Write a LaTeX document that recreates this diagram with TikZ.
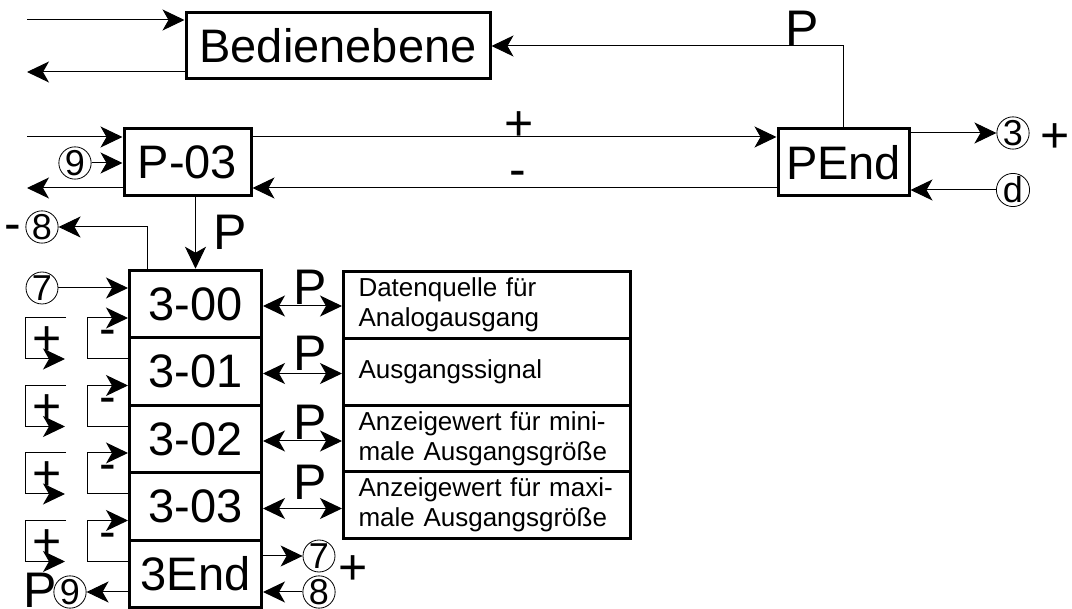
\documentclass[tikz,border=0pt]{standalone}
\usepackage{fontspec}
\setmainfont{Liberation Sans}
\usetikzlibrary{arrows.meta}

\tikzset{
  box/.style={draw, line width=3pt, inner sep=0pt, font=\fontsize{47}{56}\selectfont},
  descbox/.style={draw, line width=3pt, inner xsep=15pt, inner ysep=0pt, minimum height=66.7pt,
    text width=257pt, align=left, font=\fontsize{26}{30}\selectfont},
  circ/.style={draw, circle, line width=0.8pt, minimum size=32pt, inner sep=0pt, font=\fontsize{36}{36}\selectfont},
  lbl/.style={inner sep=0pt, text height=36pt, text depth=0pt, font=\fontsize{50}{50}\selectfont},
  arr/.style={line width=1pt, -{Stealth[length=22pt,width=21pt,inset=6pt]}},
  dbl/.style={line width=1pt, {Stealth[length=22pt,width=21pt,inset=6pt]}-{Stealth[length=22pt,width=21pt,inset=6pt]}}
}

\begin{document}
\begin{tikzpicture}[x=1pt,y=-1pt]
  \useasboundingbox (0,0) rectangle (1072,609);

  % Bedienebene and parameter level
  \node[box, minimum width=304pt, minimum height=66pt] (bed) at (338,46) {Bedienebene};
  \node[box, minimum width=127pt, minimum height=67pt] (p03) at (187.5,162.5) {P-03};
  \node[box, minimum width=131pt, minimum height=67pt] (pend) at (843.5,162.5) {PEnd};

  % Parameter boxes 3-00 ... 3End
  \foreach \n/\t [count=\i from 0] in {s300/3-00, s301/3-01, s302/3-02, s303/3-03, s3end/3End}
    \node[box, minimum width=132pt, minimum height=67.5pt] (\n) at (195.5,304+67.5*\i) {\t};

  % Descriptions
  \node[descbox] (d300) at (487,305) {Datenquelle für\\Analogausgang};
  \node[descbox] (d301) at (487,371.7) {Ausgangssignal};
  \node[descbox] (d302) at (487,438.4) {Anzeigewert für mini-\\male Ausgangsgröße};
  \node[descbox] (d303) at (487,505.1) {Anzeigewert für maxi-\\male Ausgangsgröße};

  % Bedienebene in/out
  \coordinate (inA) at (27,20);
  \coordinate (outA) at (27,72);
  \draw[arr] (inA) -- (inA -| bed.west);
  \draw[arr] (outA -| bed.west) -- (outA);
  \draw[arr] (pend.north) -- (pend.north |- bed.east) -- (bed.east);
  \node[lbl] (lp1) at (802,28) {P};

  % P-03 links
  \coordinate (inB) at (27,137);
  \coordinate (outB) at (27,188);
  \node[circ] (c9a) at (75,163) {9};
  \draw[arr] (inB) -- (inB -| p03.west);
  \draw[arr] (c9a) -- (c9a -| p03.west);
  \draw[arr] (outB -| p03.west) -- (outB);
  \draw[arr] (inB -| p03.east) -- (inB -| pend.west);
  \draw[arr] (outB -| pend.west) -- (outB -| p03.east);
  \node[lbl] (lplus1) at (519,123) {+};
  \node[lbl] (lminus1) at (518,169) {-};

  % PEnd exits
  \node[circ] (c3) at (1013,133) {3};
  \node[circ] (cd) at (1013,190) {d};
  \node[lbl] (lplus2) at (1055,135) {+};
  \draw[arr] (c3 -| pend.east) -- (c3);
  \draw[arr] (cd) -- (cd -| pend.east);

  % Down to 3-00
  \draw[arr] (s300.north |- p03.south) -- (s300.north);
  \node[lbl] (lp2) at (230,232) {P};
  \coordinate (k8) at (147,227);
  \node[circ] (c8a) at (42,227) {8};
  \node[lbl] (lminus2) at (13,223) {-};
  \draw[arr] (k8 |- s300.north) -- (k8) -- (c8a);
  \node[circ] (c7a) at (42,288) {7};
  \draw[arr] (c7a) -- (c7a -| s300.west);

  % +/- loops
  \foreach \a/\b [count=\i from 0] in {s300/s301, s301/s302, s302/s303, s303/s3end} {
    \draw[arr] ([yshift=12.5pt]\b.west) -- ++(-41,0) |- ([yshift=-14pt]\a.west);
    \node[lbl] (mi\i) at (108,328+67.5*\i) {-};
    \coordinate (pl\i) at (66,318+67.5*\i);
    \draw[arr] (pl\i) -- ++(-41,0) -- ++(0,41) -- ++(40,0);
    \node[lbl] (pi\i) at (47,338+67.5*\i) {+};
  }

  % 3End exits
  \node[circ] (c7b) at (319,556) {7};
  \node[circ] (c8b) at (319,592) {8};
  \node[circ] (c9b) at (70,592) {9};
  \node[lbl] (lplus3) at (353,567) {+};
  \node[lbl] (lp3) at (40,590) {P};
  \draw[arr] (c7b -| s3end.east) -- (c7b);
  \draw[arr] (c8b) -- (c8b -| s3end.east);
  \draw[arr] (c9b -| s3end.west) -- (c9b);

  % P links to descriptions
  \foreach \s/\d/\y [count=\i] in {s300/d300/287, s301/d301/353, s302/d302/422, s303/d303/482} {
    \draw[dbl] ([yshift=-2pt]\s.east) -- ([yshift=-2pt]\s.east -| \d.west);
    \node[lbl] (pd\i) at (310,\y) {P};
  }
\end{tikzpicture}
\end{document}
